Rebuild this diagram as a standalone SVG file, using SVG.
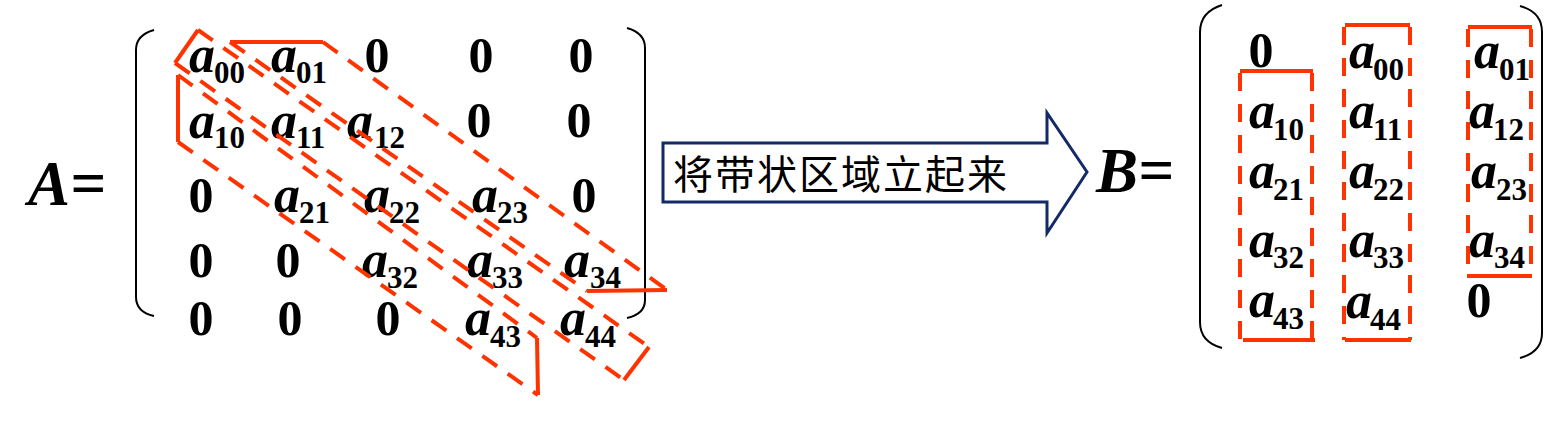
<svg xmlns="http://www.w3.org/2000/svg" width="1553" height="443" viewBox="0 0 1553 443">
<style>
text{font-family:"Liberation Serif","Times New Roman",serif;font-weight:bold;fill:#000}
.a{font-style:italic;font-size:52px}
.z{font-size:50px}
.s{font-size:31px}
.big{font-style:italic;font-size:63px}
.cjk{font-family:"Noto Sans CJK SC",sans-serif;font-weight:normal;font-size:40px}
.par{fill:none;stroke:#000;stroke-width:2}
.sol{fill:none;stroke:#ff3300;stroke-width:4}
.dsh{fill:none;stroke:#ff3300;stroke-width:4;stroke-dasharray:18 13}
.arrow{fill:#fff;stroke:#142a66;stroke-width:3}
</style>

<g id="labelA"><text class="big" x="28" y="205">A=</text></g>

<g id="matrixA">
<path class="par" d="M154,30 Q136,35 136,50 L136,297 Q136,312 154,316"/>
<path class="par" d="M627,28 Q645,33 645,48 L645,300 Q645,314 627,318"/>
<g id="A00"><text class="a" x="189" y="72">a</text><text class="s" x="214" y="83">00</text></g>
<g id="A01"><text class="a" x="271" y="72">a</text><text class="s" x="296" y="83">01</text></g>
<text class="z" x="364.5" y="72">0</text>
<text class="z" x="468.5" y="72">0</text>
<text class="z" x="568.5" y="72">0</text>
<g id="A10"><text class="a" x="189" y="138">a</text><text class="s" x="214" y="148">10</text></g>
<g id="A11"><text class="a" x="271" y="138">a</text><text class="s" x="296" y="148">11</text></g>
<g id="A12"><text class="a" x="347" y="138">a</text><text class="s" x="374" y="148">12</text></g>
<text class="z" x="466.5" y="137">0</text>
<text class="z" x="566.5" y="137">0</text>
<text class="z" x="188.5" y="212">0</text>
<g id="A21"><text class="a" x="274" y="212">a</text><text class="s" x="299" y="223">21</text></g>
<g id="A22"><text class="a" x="364" y="212">a</text><text class="s" x="389" y="223">22</text></g>
<g id="A23"><text class="a" x="472" y="212">a</text><text class="s" x="497" y="223">23</text></g>
<text class="z" x="571.5" y="212">0</text>
<text class="z" x="188.5" y="277">0</text>
<text class="z" x="275.5" y="277">0</text>
<g id="A32"><text class="a" x="362" y="277">a</text><text class="s" x="387" y="288">32</text></g>
<g id="A33"><text class="a" x="467" y="277">a</text><text class="s" x="492" y="288">33</text></g>
<g id="A34"><text class="a" x="564" y="277">a</text><text class="s" x="590" y="288">34</text></g>
<text class="z" x="188.5" y="335">0</text>
<text class="z" x="277.5" y="335">0</text>
<text class="z" x="375.5" y="335">0</text>
<g id="A43"><text class="a" x="465" y="335">a</text><text class="s" x="490" y="347">43</text></g>
<g id="A44"><text class="a" x="560" y="335">a</text><text class="s" x="585" y="347">44</text></g>
</g>

<g id="bands">
<path class="sol" d="M175,63 L198,30"/>
<path class="sol" d="M649,347 L624,380"/>
<path class="sol" d="M230,42 L323,42"/>
<path class="sol" d="M587,291 L667,290"/>
<path class="sol" d="M178,75 L178,142"/>
<path class="sol" d="M537,338 L538,395"/>
<path class="dsh" d="M198,30 L649,347"/>
<path class="dsh" d="M175,63 L624,380"/>
<path class="dsh" d="M323,42 L667,290"/>
<path class="dsh" d="M230,42 L587,291"/>
<path class="dsh" d="M178,75 L537,338"/>
<path class="dsh" d="M178,142 L538,395"/>
</g>

<g id="arrow">
<path class="arrow" d="M663,143 L1047,143 L1047,113 L1087,172 L1047,233 L1047,202 L663,202 Z"/>
<text class="cjk" x="673" y="189" letter-spacing="2">将带状区域立起来</text>
</g>

<g id="labelB"><text class="big" x="1096" y="192">B=</text></g>

<g id="matrixB">
<path class="par" d="M1222,5 Q1200,12 1200,32 L1200,322 Q1200,342 1222,348"/>
<path class="par" d="M1520,6 Q1542,12 1542,32 L1542,333 Q1542,352 1520,358"/>
<text class="z" x="1248.5" y="67">0</text>
<g id="B10"><text class="a" x="1249" y="128">a</text><text class="s" x="1273" y="140">10</text></g>
<g id="B21"><text class="a" x="1249" y="188">a</text><text class="s" x="1273" y="200">21</text></g>
<g id="B32"><text class="a" x="1249" y="257">a</text><text class="s" x="1273" y="268">32</text></g>
<g id="B43"><text class="a" x="1249" y="317">a</text><text class="s" x="1273" y="329">43</text></g>
<g id="B00"><text class="a" x="1349" y="68">a</text><text class="s" x="1373" y="80">00</text></g>
<g id="B11"><text class="a" x="1349" y="128">a</text><text class="s" x="1373" y="140">11</text></g>
<g id="B22"><text class="a" x="1349" y="188">a</text><text class="s" x="1373" y="200">22</text></g>
<g id="B33"><text class="a" x="1349" y="257">a</text><text class="s" x="1373" y="268">33</text></g>
<g id="B44"><text class="a" x="1346" y="318">a</text><text class="s" x="1370" y="330">44</text></g>
<g id="B01"><text class="a" x="1474" y="68">a</text><text class="s" x="1499" y="80">01</text></g>
<g id="B12"><text class="a" x="1469" y="128">a</text><text class="s" x="1493" y="140">12</text></g>
<g id="B23"><text class="a" x="1471" y="188">a</text><text class="s" x="1496" y="200">23</text></g>
<g id="B34"><text class="a" x="1469" y="257">a</text><text class="s" x="1494" y="268">34</text></g>
<text class="z" x="1466.5" y="317">0</text>
<g id="colBands">
<path class="sol" d="M1240,71 L1313,71"/>
<path class="sol" d="M1243,340 L1315,340"/>
<path class="dsh" d="M1240,73 L1240,340" stroke-dasharray="18 12"/>
<path class="dsh" d="M1312,73 L1312,340" stroke-dasharray="18 12"/>
<path class="sol" d="M1345,25 L1410,25"/>
<path class="sol" d="M1345,340 L1411,340"/>
<path class="dsh" d="M1344,27 L1344,340"/>
<path class="dsh" d="M1410,27 L1410,340"/>
<path class="sol" d="M1468,27 L1532,27"/>
<path class="sol" d="M1467,276 L1532,276"/>
<path class="dsh" d="M1468,29 L1468,276"/>
<path class="dsh" d="M1531,29 L1531,276"/>
</g>
</g>
</svg>
